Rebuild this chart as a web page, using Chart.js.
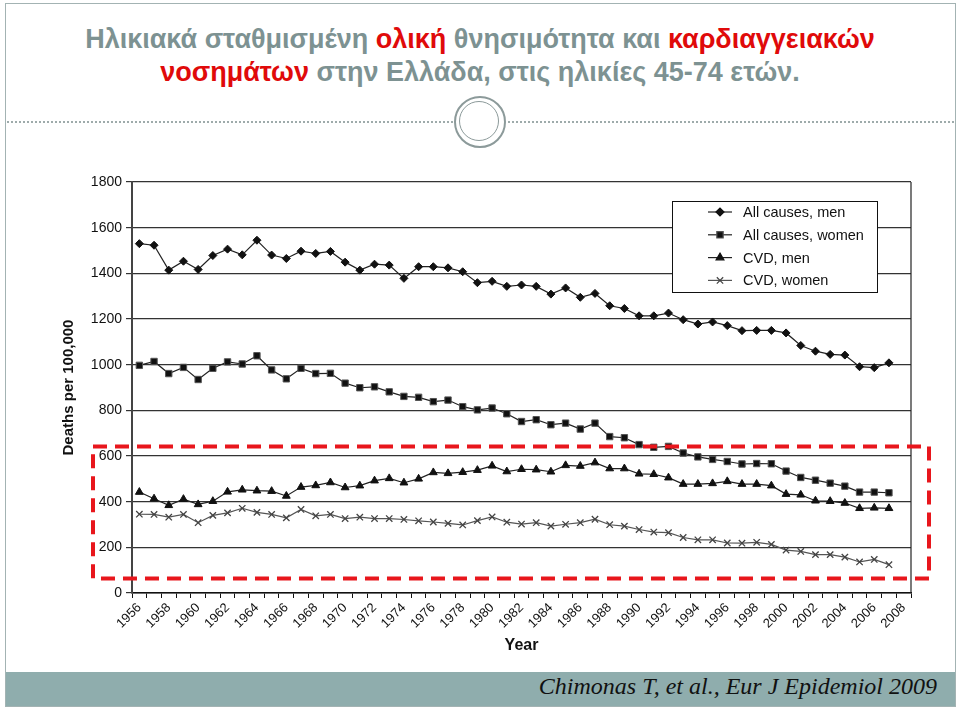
<!DOCTYPE html>
<html>
<head>
<meta charset="utf-8">
<script src="https://cdn.jsdelivr.net/npm/chart.js@4/dist/chart.umd.min.js"></script>
<style>
  body { margin: 0; background: #fff; }
  #page { position: relative; width: 960px; height: 708px; overflow: hidden; background: #fff; }
  #frame { position: absolute; left: 5px; top: 3px; width: 949px; height: 702px; border: 1px solid #a3b3b3; }
  #title { position: absolute; left: 0; top: 23px; width: 960px; text-align: center;
    font: bold 27px "Liberation Sans", Arial, sans-serif; line-height: 33px; color: #7d9292; }
  #title .red { color: #e00a0a; }
  .dots { position: absolute; top: 121px; height: 0; border-top: 2px dotted #9eabab; }
  .ring { position: absolute; border-radius: 50%; border: 2px solid #8c9a9a; }
  #footer { position: absolute; left: 6px; top: 672px; width: 949px; height: 34px; background: #8fadad; }
  #footer span { position: absolute; right: 18px; top: 1px;
    font: italic 24px "Liberation Serif", "Times New Roman", serif; color: #111; }
  #chart { position: absolute; left: 0; top: 150px; }
</style>
</head>
<body>
<div id="page">
  <div id="frame"></div>
  <div id="title">Ηλικιακά σταθμισμένη <span class="red">ολική</span> θνησιμότητα και <span class="red">καρδιαγγειακών</span><br><span class="red">νοσημάτων</span> στην Ελλάδα, στις ηλικίες 45-74 ετών.</div>
  <div class="dots" style="left:7px; width:446px;"></div>
  <div class="dots" style="left:508px; width:446px;"></div>
  <div class="ring" style="left:454px; top:96px; width:48px; height:48px;"></div>
  <div class="ring" style="left:459px; top:101px; width:38px; height:38px; border-width:1.5px;"></div>
  <canvas id="chart" width="960" height="520"></canvas>
  <div id="footer"><span>Chimonas T, et al., Eur J Epidemiol 2009</span></div>
</div>
<script>
const years = [1956, 1957, 1958, 1959, 1960, 1961, 1962, 1963, 1964, 1965, 1966, 1967, 1968,
  1969, 1970, 1971, 1972, 1973, 1974, 1975, 1976, 1977, 1978, 1979, 1980, 1981, 1982, 1983,
  1984, 1985, 1986, 1987, 1988, 1989, 1990, 1991, 1992, 1993, 1994, 1995, 1996, 1997, 1998,
  1999, 2000, 2001, 2002, 2003, 2004, 2005, 2006, 2007, 2008];

const allCausesMen = [1530, 1523, 1414, 1453, 1417, 1478, 1506, 1481, 1545, 1480, 1465, 1497, 1487,
  1496, 1449, 1414, 1440, 1436, 1378, 1429, 1429, 1424, 1407, 1359, 1365, 1343, 1349, 1343,
  1309, 1336, 1295, 1312, 1258, 1246, 1214, 1214, 1226, 1197, 1178, 1187, 1171, 1149, 1150,
  1150, 1139, 1084, 1059, 1045, 1042, 991, 987, 1008];

const allCausesWomen = [997, 1014, 961, 988, 935, 984, 1012, 1003, 1039, 977, 938, 984, 961,
  962, 919, 899, 903, 881, 861, 857, 838, 845, 816, 802, 810, 785, 751, 759,
  737, 744, 718, 744, 685, 680, 650, 638, 642, 613, 596, 585, 576, 565, 567,
  566, 534, 506, 494, 481, 468, 442, 442, 439];

const cvdMen = [442, 413, 384, 411, 388, 402, 443, 452, 448, 446, 425, 464, 471,
  484, 462, 470, 492, 502, 483, 500, 528, 524, 529, 538, 557, 532, 542, 540,
  531, 559, 556, 571, 545, 545, 522, 520, 505, 477, 477, 480, 489, 477, 477,
  470, 433, 430, 404, 402, 394, 371, 373, 371];

const cvdWomen = [345, 344, 332, 344, 308, 340, 351, 371, 353, 344, 329, 366, 338,
  344, 326, 332, 326, 326, 322, 316, 311, 305, 298, 317, 333, 310, 302, 308,
  293, 301, 308, 323, 299, 293, 278, 267, 264, 243, 233, 233, 219, 218, 222,
  213, 188, 182, 168, 168, 157, 136, 147, 124];

const yTicks = [0, 200, 400, 600, 800, 1000, 1200, 1400, 1600, 1800];

// red dashed highlight, in data units on y
const boxTop = 642;
const boxBottom = 64;

const extras = {
  id: 'extras',
  afterDraw(chart) {
    const ctx = chart.ctx;
    const a = chart.chartArea;
    const y = chart.scales.y;

    // right frame line
    ctx.save();
    ctx.strokeStyle = '#222';
    ctx.lineWidth = 1.2;
    ctx.beginPath();
    ctx.moveTo(a.right, a.top);
    ctx.lineTo(a.right, a.bottom);
    ctx.stroke();

    // legend box
    const lx = a.right - 239, ly = a.top + 19;
    ctx.fillStyle = '#fff';
    ctx.fillRect(lx, ly, 205, 91);
    ctx.strokeStyle = '#111';
    ctx.lineWidth = 1;
    ctx.strokeRect(lx + 0.5, ly + 0.5, 205, 91);
    ctx.font = '14.5px "Liberation Sans", Arial, sans-serif';
    ctx.textBaseline = 'middle';
    chart.data.datasets.forEach((ds, i) => {
      const ry = ly + 11 + i * 22.8;
      ctx.strokeStyle = ds.borderColor;
      ctx.lineWidth = 1.2;
      ctx.beginPath();
      ctx.moveTo(lx + 36, ry);
      ctx.lineTo(lx + 60, ry);
      ctx.stroke();
      ctx.fillStyle = ds.pointBackgroundColor;
      ctx.strokeStyle = ds.pointBorderColor;
      Chart.helpers.drawPoint(ctx, {
        pointStyle: ds.pointStyle, radius: ds.pointRadius, rotation: 0, borderWidth: ds.pointBorderWidth
      }, lx + 48, ry);
      ctx.fillStyle = '#111';
      ctx.fillText(ds.label, lx + 71, ry + 1);
    });

    // red dashed rectangle
    ctx.strokeStyle = '#e8161c';
    ctx.lineWidth = 4;
    ctx.setLineDash([14, 8]);
    const t = y.getPixelForValue(boxTop), b = y.getPixelForValue(boxBottom);
    ctx.strokeRect(a.left - 39, t, (a.right + 18) - (a.left - 39), b - t);
    ctx.restore();
  }
};

new Chart(document.getElementById('chart'), {
  type: 'line',
  data: {
    labels: years,
    datasets: [
      { label: 'All causes, men', data: allCausesMen, borderColor: '#222', borderWidth: 1.2,
        pointStyle: 'rectRot', pointRadius: 4, pointBackgroundColor: '#111', pointBorderColor: '#111', pointBorderWidth: 1 },
      { label: 'All causes, women', data: allCausesWomen, borderColor: '#222', borderWidth: 1.2,
        pointStyle: 'rect', pointRadius: 4.5, pointBackgroundColor: '#111', pointBorderColor: '#555', pointBorderWidth: 1 },
      { label: 'CVD, men', data: cvdMen, borderColor: '#222', borderWidth: 1.2,
        pointStyle: 'triangle', pointRadius: 4.5, pointBackgroundColor: '#111', pointBorderColor: '#111', pointBorderWidth: 1 },
      { label: 'CVD, women', data: cvdWomen, borderColor: '#555', borderWidth: 1.2,
        pointStyle: 'crossRot', pointRadius: 4.5, pointBackgroundColor: '#444', pointBorderColor: '#444', pointBorderWidth: 1.3 }
    ]
  },
  options: {
    responsive: false,
    devicePixelRatio: 1,
    animation: false,
    layout: { padding: { left: 60, right: 49, top: 32, bottom: 11 } },
    plugins: { legend: { display: false }, tooltip: { enabled: false } },
    elements: { line: { tension: 0 } },
    scales: {
      x: {
        type: 'category',
        offset: true,
        afterFit(scale) { scale.height = 66; },
        grid: { drawOnChartArea: false, drawTicks: true, tickLength: 5, offset: true, color: '#111', lineWidth: 1 },
        border: { display: true, color: '#111', width: 1.5 },
        ticks: {
          autoSkip: false, minRotation: 45, maxRotation: 45, padding: 2, color: '#111',
          font: { family: '"Liberation Sans", Arial, sans-serif', size: 13 },
          callback(v, i) { return i % 2 === 0 ? String(years[i]) : ''; }
        },
        title: { display: true, text: 'Year', color: '#111', padding: 4,
          font: { family: '"Liberation Sans", Arial, sans-serif', size: 16, weight: 'bold' } }
      },
      y: {
        min: 0, max: 1800,
        afterFit(scale) { scale.width = 132 - 60; },
        afterBuildTicks(scale) { scale.ticks = yTicks.map(v => ({ value: v })); },
        grid: { color: '#333', lineWidth: 1.2, tickLength: 6 },
        border: { display: true, color: '#444', width: 2 },
        ticks: { padding: 4, color: '#111', font: { family: '"Liberation Sans", Arial, sans-serif', size: 14 },
          callback(v) { return String(v); } },
        title: { display: true, text: 'Deaths per 100,000', color: '#111', padding: 0,
          font: { family: '"Liberation Sans", Arial, sans-serif', size: 15, weight: 'bold' } }
      }
    }
  },
  plugins: [extras]
});
</script>
</body>
</html>
